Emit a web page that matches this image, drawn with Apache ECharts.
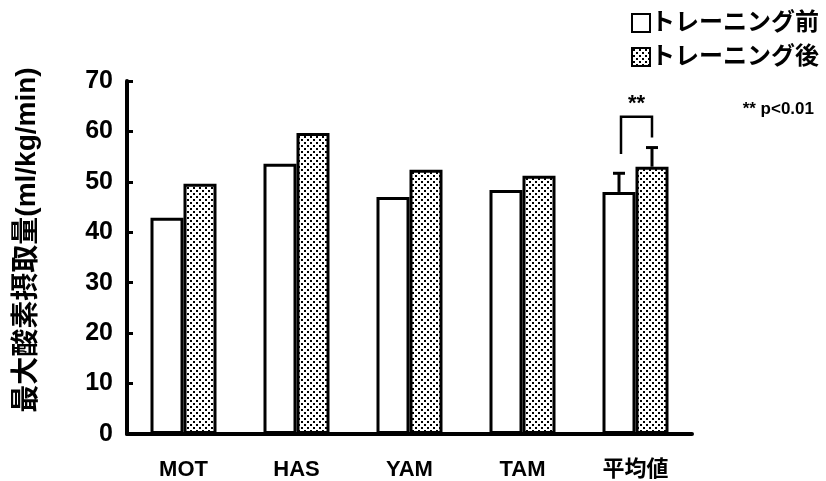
<!DOCTYPE html>
<html>
<head>
<meta charset="utf-8">
<script src="https://cdn.jsdelivr.net/npm/echarts@6/dist/echarts.min.js"></script>
<style>
  html, body { margin: 0; padding: 0; background: #fff; }
  #chart { width: 826px; height: 481px; }
</style>
</head>
<body>
<div id="chart"></div>
<script>
// Maximal oxygen uptake before / after training
const categories = ['MOT', 'HAS', 'YAM', 'TAM', '平均値'];
const beforeValues = [42.9, 53.6, 47.0, 48.4, 48.0];
const afterValues = [49.6, 59.7, 52.4, 51.2, 53.0];
// standard deviation, shown only on the mean group
const meanIndex = 4;
const beforeSD = 3.7;
const afterSD = 3.8;
const seriesNames = ['トレーニング前', 'トレーニング後'];
const yTicks = [0, 10, 20, 30, 40, 50, 60, 70];
const significance = '**';
const significanceNote = '** p<0.01';
const yAxisName = '最大酸素摂取量(ml/kg/min)';

const FONT = '"Liberation Sans", "Noto Sans CJK JP", sans-serif';
const BAR_W = 33;

// dotted screen used for the post-training bars
function dotPattern() {
  const c = document.createElement('canvas');
  c.width = 6; c.height = 6;
  const g = c.getContext('2d');
  g.fillStyle = '#fff';
  g.fillRect(0, 0, 6, 6);
  g.fillStyle = '#000';
  g.fillRect(1, 1, 2, 2);
  g.fillRect(4, 4, 2, 2);
  return c;
}
const dots = { image: dotPattern(), repeat: 'repeat' };

const chart = echarts.init(document.getElementById('chart'), null, { renderer: 'canvas' });

function errorBar(offset) {
  return function (params, api) {
    const x = api.coord([api.value(0), 0])[0] + offset;
    const yTop = api.coord([api.value(0), api.value(1) + api.value(2)])[1];
    const yMean = api.coord([api.value(0), api.value(1)])[1];
    const style = { stroke: '#000', lineWidth: 3, fill: null };
    return {
      type: 'group',
      children: [
        { type: 'line', shape: { x1: x, y1: yMean, x2: x, y2: yTop }, style },
        { type: 'line', shape: { x1: x - 6, y1: yTop, x2: x + 6, y2: yTop }, style }
      ]
    };
  };
}

chart.setOption({
  animation: false,
  backgroundColor: '#fff',
  textStyle: { fontFamily: FONT },
  grid: { left: 127, right: 134, top: 81, bottom: 46 },
  legend: {
    orient: 'vertical',
    right: 2,
    top: 6,
    itemGap: 10,
    itemWidth: 18,
    itemHeight: 18,
    icon: 'rect',
    textStyle: { fontFamily: FONT, fontWeight: 'bold', fontSize: 24, color: '#000', padding: [0, 0, 0, -4] },
    data: seriesNames
  },
  xAxis: {
    type: 'category',
    data: categories,
    axisLine: { lineStyle: { color: '#000', width: 4 } },
    axisTick: { show: false },
    axisLabel: { color: '#000', fontFamily: FONT, fontWeight: 'bold', fontSize: 22, margin: 25 }
  },
  yAxis: {
    type: 'value',
    min: 0,
    max: 70,
    interval: 10,
    axisLine: { show: true, lineStyle: { color: '#000', width: 4 } },
    axisTick: { show: true, inside: true, length: 6, lineStyle: { color: '#000', width: 3 } },
    splitLine: { show: false },
    axisLabel: {
      color: '#000', fontFamily: FONT, fontWeight: 'bold', fontSize: 25, margin: 14,
      formatter: v => (yTicks.indexOf(v) >= 0 ? String(v) : '')
    }
  },
  series: [
    {
      name: seriesNames[0],
      type: 'bar',
      data: beforeValues,
      barWidth: BAR_W,
      barGap: '0%',
      itemStyle: { color: '#fff', borderColor: '#000', borderWidth: 3 }
    },
    {
      name: seriesNames[1],
      type: 'bar',
      data: afterValues,
      barWidth: BAR_W,
      barGap: '0%',
      itemStyle: { color: dots, borderColor: '#000', borderWidth: 3 }
    },
    {
      type: 'custom',
      renderItem: errorBar(-BAR_W / 2),
      data: [[meanIndex, beforeValues[meanIndex], beforeSD]],
      z: 3
    },
    {
      type: 'custom',
      renderItem: errorBar(BAR_W / 2),
      data: [[meanIndex, afterValues[meanIndex], afterSD]],
      z: 3
    },
    {
      // significance bracket over the mean group
      type: 'custom',
      renderItem: function (params, api) {
        const cx = api.coord([api.value(0), 0])[0];
        const xl = cx - BAR_W / 2 + 2;
        const xr = cx + BAR_W / 2;
        const yl = api.coord([api.value(0), api.value(1)])[1];
        const yr = api.coord([api.value(0), api.value(2)])[1];
        const yt = api.coord([api.value(0), api.value(3)])[1];
        return {
          type: 'group',
          children: [
            { type: 'polyline', shape: { points: [[xl, yl], [xl, yt], [xr, yt], [xr, yr]] },
              style: { stroke: '#000', lineWidth: 2.5, fill: null } },
            { type: 'text', style: { text: significance, x: (xl + xr) / 2, y: yt - 2,
              align: 'center', verticalAlign: 'bottom', fill: '#000',
              font: 'bold 22px ' + FONT } }
          ]
        };
      },
      data: [[meanIndex, 55.5, 58.8, 62.9]],
      z: 3
    }
  ],
  graphic: [
    {
      type: 'text',
      right: 12,
      top: 101,
      style: { text: significanceNote, fill: '#000', font: 'bold 17px ' + FONT }
    },
    {
      // vertical y-axis title
      type: 'text',
      x: 27,
      y: 240,
      rotation: Math.PI / 2,
      style: { text: yAxisName, fill: '#000', font: 'bold 28px ' + FONT,
        align: 'center', verticalAlign: 'middle' }
    }
  ]
});
</script>
</body>
</html>
